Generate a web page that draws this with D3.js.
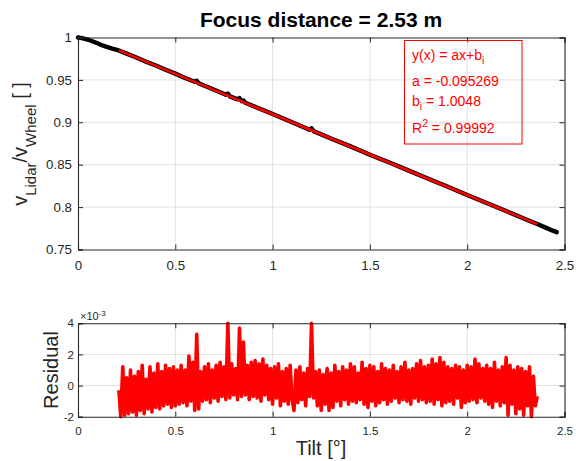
<!DOCTYPE html>
<html><head><meta charset="utf-8">
<script src="https://cdn.jsdelivr.net/npm/d3@7"></script>
<style>
body{margin:0;background:#fff;}
svg{display:block;font-family:"Liberation Sans",Arial,sans-serif;}
</style></head><body>
<svg id="c" width="576" height="461"></svg>
<script>
// ---- data ----
const titleText = "Focus distance = 2.53 m";
const xTicks = [0, 0.5, 1, 1.5, 2, 2.5];
const yTopTicks = [0.75, 0.8, 0.85, 0.9, 0.95, 1];
const yBotTicks = [-2, 0, 2, 4]; // x 10^-3

// measured ratio (black)
const measTilt = [0,0.02,0.04,0.06,0.08,0.10,0.12,0.14,0.16,0.18,0.20,0.25,0.30,0.35,0.40,0.45,0.50,0.55,0.60,0.61,0.62,0.65,0.70,0.76,0.77,0.78,0.82,0.83,0.84,0.85,0.86,0.90,1.00,1.10,1.19,1.20,1.21,1.30,1.40,1.50,1.60,1.70,1.80,1.90,2.00,2.10,2.20,2.30,2.36,2.40,2.44,2.46];
const measRatio = [1.0000,0.9993,0.9982,0.9968,0.9950,0.9932,0.9912,0.9895,0.9880,0.9866,0.9855,0.9810,0.9764,0.9715,0.9669,0.9620,0.9574,0.9523,0.9478,0.9490,0.9460,0.9430,0.9383,0.9325,0.9340,0.9306,0.9270,0.9285,0.9249,0.9258,0.9230,0.9193,0.9098,0.9001,0.8913,0.8930,0.8896,0.8809,0.8716,0.8618,0.8525,0.8430,0.8334,0.8240,0.8142,0.8048,0.7953,0.7857,0.7800,0.7761,0.7722,0.7705];

// linear fit
const fitA = -0.095269;
const fitB = 1.0048;
const fitR2 = 0.99992;
const fitRange = [0.21, 2.36];

// residuals (x 10^-3), tilt from 0.21 in steps of 0.01
const residStart = 0.21, residStep = 0.01;
const residual = [
 -0.3,-2.0,1.2,-1.9,0.5,-1.8,1.0,-1.7,0.6,-1.9,
 0.9,-1.6,1.3,-1.8,0.4,-1.5,1.2,-1.7,0.8,-1.4,
 1.4,-1.5,0.9,-1.3,1.3,-1.2,1.1,-1.4,1.2,-1.3,
 1.0,-1.2,1.3,-1.1,1.0,-1.3,1.9,-1.0,1.5,-1.6,
 3.3,-1.5,0.9,-1.0,1.2,-0.9,1.4,-1.1,1.0,-0.8,
 1.3,-1.0,1.5,-0.7,1.2,-0.9,4.0,-0.8,1.4,-0.6,
 1.1,-0.9,3.7,-0.7,2.8,-0.6,1.3,-0.9,1.5,-0.7,
 1.6,-0.8,1.4,-1.0,1.7,-0.6,1.3,-0.9,1.1,-1.2,
 1.2,-0.8,1.4,-1.3,0.9,-1.0,1.1,-1.2,1.3,-0.9,
 -1.6,1.0,-1.1,1.2,-0.9,0.8,-1.3,1.1,-0.7,4.0,
 -0.8,0.9,-1.3,1.0,-1.6,0.7,-1.2,1.1,-1.6,0.8,
 -1.4,1.3,-1.0,0.9,-1.3,1.2,-0.9,1.0,-1.2,1.4,
 -1.0,1.2,-1.1,0.8,-0.9,1.5,-1.2,1.1,-1.4,1.3,
 -1.0,1.2,-1.3,0.9,-1.1,1.4,-0.9,1.1,-1.2,1.0,
 -1.0,1.3,-0.8,0.9,-1.1,1.2,-0.9,1.5,-1.0,1.0,
 -1.2,1.1,-0.8,1.4,-1.0,1.6,-0.9,1.2,-1.1,1.3,
 -1.0,1.7,-1.2,1.4,-0.9,1.8,-1.3,1.5,-1.1,1.2,
 -1.0,1.1,-1.2,1.3,-0.8,1.2,-1.4,1.0,-1.1,1.3,
 -1.0,1.2,-0.9,1.7,-1.1,1.4,-0.8,1.1,-1.0,1.3,
 -1.2,1.1,-1.4,1.5,-1.0,1.0,-1.3,1.2,-1.1,1.8,
 -1.9,1.3,-1.2,1.0,-1.8,1.2,-1.5,1.1,-1.9,0.9,
 -1.3,1.2,-2.0,0.6,-1.3,-0.7
];

// ---- drawing ----
const svg = d3.select("#c");
const axCol = "#262626", gridCol = "#e1e1e1";
const x = d3.scaleLinear().domain([0, 2.5]).range([78, 564.5]);
const yT = d3.scaleLinear().domain([0.75, 1]).range([249.5, 37.5]);
const yB = d3.scaleLinear().domain([-2, 4]).range([416.7, 323.3]);

function panel(ys, yticks){
  const [y0, y1] = ys.range();
  const g = svg.append("g");
  g.selectAll(".gx").data(xTicks.slice(1,-1)).join("line")
    .attr("x1", d=>x(d)).attr("x2", d=>x(d)).attr("y1", y0).attr("y2", y1)
    .attr("stroke", gridCol).attr("stroke-width", 1);
  g.selectAll(".gy").data(yticks.slice(1,-1)).join("line")
    .attr("x1", x(0)).attr("x2", x(2.5)).attr("y1", d=>ys(d)).attr("y2", d=>ys(d))
    .attr("stroke", gridCol).attr("stroke-width", 1);
  return g;
}
function frame(ys, yticks, fs, padL, fmt){
  const [y0, y1] = ys.range();
  const ab = svg.append("g").attr("transform", `translate(0,${y0})`)
    .call(d3.axisBottom(x).tickValues(xTicks).tickSize(-5).tickPadding(fs*0.85).tickFormat(d=>String(d)));
  const at = svg.append("g").attr("transform", `translate(0,${y1})`)
    .call(d3.axisTop(x).tickValues(xTicks).tickSize(-5).tickFormat(""));
  const al = svg.append("g").attr("transform", `translate(${x(0)},0)`)
    .call(d3.axisLeft(ys).tickValues(yticks).tickSize(-5).tickPadding(padL).tickFormat(fmt));
  const ar = svg.append("g").attr("transform", `translate(${x(2.5)},0)`)
    .call(d3.axisRight(ys).tickValues(yticks).tickSize(-5).tickFormat(""));
  [ab, at, al, ar].forEach(a=>{
    a.selectAll("path").attr("stroke", axCol).attr("stroke-width", 1.1);
    a.selectAll("line").attr("stroke", axCol).attr("stroke-width", 1);
    a.selectAll("text").attr("fill", axCol).style("font-size", fs+"px")
      .style("font-family", '"Liberation Sans",Arial,sans-serif');
  });
}

// ---- top panel ----
panel(yT, yTopTicks);
const lineT = d3.line().x(d=>x(d[0])).y(d=>yT(d[1]));
svg.append("path").datum(measTilt.map((t,i)=>[t, measRatio[i]]))
  .attr("d", lineT).attr("fill","none").attr("stroke","#000").attr("stroke-width",4.4)
  .attr("stroke-linejoin","round").attr("stroke-linecap","round");
svg.append("path").datum(fitRange.map(t=>[t, fitA*t + fitB]))
  .attr("d", lineT).attr("fill","none").attr("stroke","#ff0000").attr("stroke-width",2.6);
frame(yT, yTopTicks, 13.3, 6, d=>String(+d.toFixed(2)));

// title
svg.append("text").attr("x", 321).attr("y", 26.5).attr("text-anchor","middle")
  .style("font-size","21px").style("font-weight","bold").attr("fill","#000").text(titleText);

// y label top
const yl = svg.append("text").attr("transform","translate(27,144) rotate(-90)")
  .attr("text-anchor","middle").attr("fill", axCol).style("font-size","20px");
yl.append("tspan").text("v");
yl.append("tspan").attr("dy", 9).style("font-size","15px").text("Lidar");
yl.append("tspan").attr("dy", -9).text("/v");
yl.append("tspan").attr("dy", 9).style("font-size","15px").text("Wheel");
yl.append("tspan").attr("dy", -9).text(" [ ]");

// fit annotation box
const bx = svg.append("g");
bx.append("rect").attr("x",404.5).attr("y",40.5).attr("width",117.5).attr("height",103.5)
  .attr("fill","none").attr("stroke","#ff0000").attr("stroke-width",1);
const lt = (yy)=>bx.append("text").attr("x",412).attr("y",yy).attr("fill","#ff0000").style("font-size","14px");
const t1 = lt(60); t1.append("tspan").text("y(x) = ax+b"); t1.append("tspan").attr("dy",4).style("font-size","10.5px").text("i");
lt(86).text("a = " + fitA);
const t3 = lt(106); t3.append("tspan").text("b"); t3.append("tspan").attr("dy",4).style("font-size","10.5px").text("i");
t3.append("tspan").attr("dy",-4).text(" = " + fitB);
const t4 = lt(133); t4.append("tspan").text("R"); t4.append("tspan").attr("dy",-6).style("font-size","10.5px").text("2");
t4.append("tspan").attr("dy",6).text(" = " + fitR2);

// ---- bottom panel ----
panel(yB, yBotTicks);
const lineB = d3.line().x((d,i)=>x(residStart + i*residStep)).y(d=>yB(d));
svg.append("path").datum(residual).attr("d", lineB).attr("fill","none")
  .attr("stroke","#ff0000").attr("stroke-width",3.6).attr("stroke-linejoin","round");
frame(yB, yBotTicks, 11.5, 4, d=>String(d));

// exponent label
const ex = svg.append("text").attr("x",80).attr("y",319.5).attr("fill",axCol).style("font-size","11px");
ex.append("tspan").text("\u00d710");
ex.append("tspan").attr("dy",-4).style("font-size","8px").text("-3");

svg.append("text").attr("transform","translate(58,370) rotate(-90)").attr("text-anchor","middle")
  .attr("fill",axCol).style("font-size","20px").text("Residual");
svg.append("text").attr("x",321).attr("y",455).attr("text-anchor","middle")
  .attr("fill",axCol).style("font-size","20px").text("Tilt [\u00b0]");
</script></body></html>
